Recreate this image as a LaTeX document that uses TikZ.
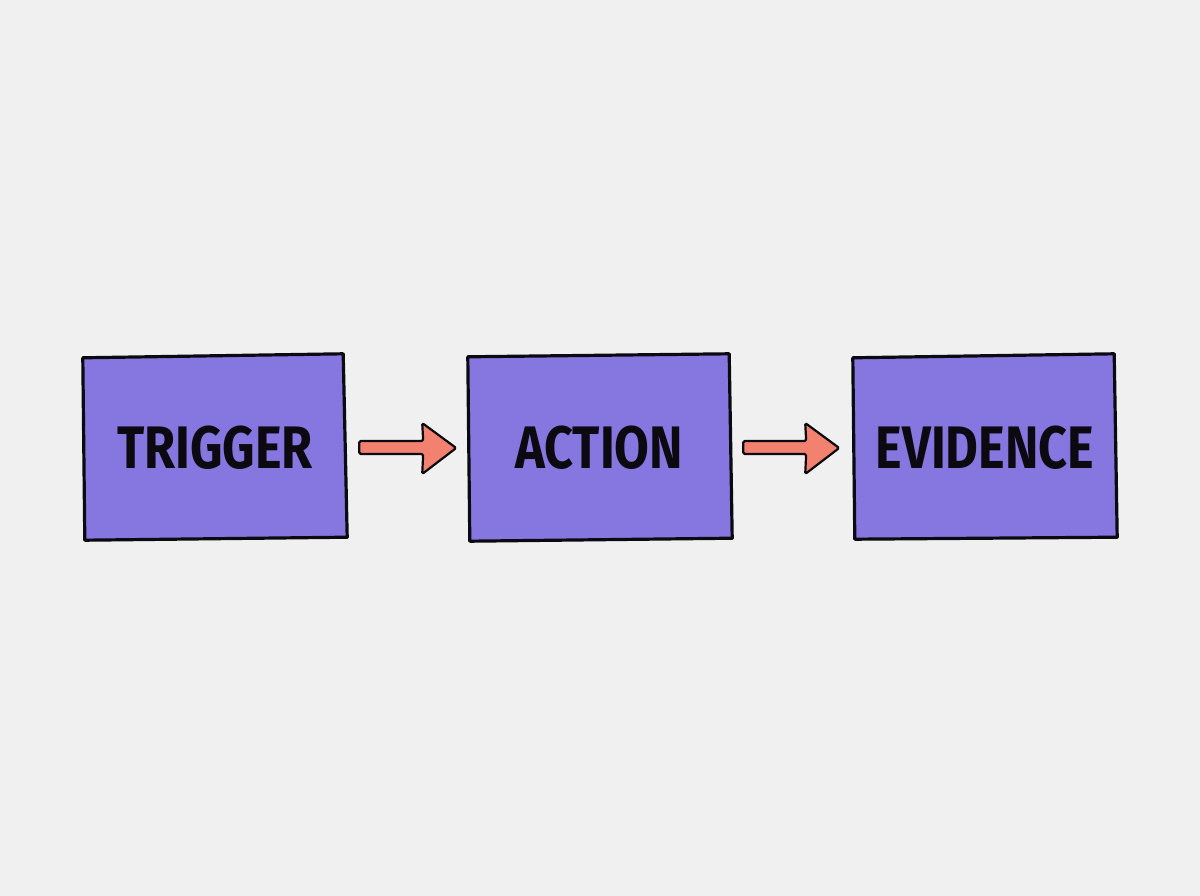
\documentclass[tikz,border=0pt]{standalone}
\usepackage{fontspec}
\setmainfont{Fira Sans}[BoldFeatures={FakeStretch=0.84}]
\usetikzlibrary{calc}
\definecolor{bg}{HTML}{F0F0F0}
\definecolor{boxfill}{HTML}{8677E0}
\definecolor{arrowfill}{HTML}{F2826F}
\definecolor{ink}{HTML}{0C0A10}
\tikzset{
  stagebox/.style={minimum width=264pt, minimum height=186pt, inner sep=0pt, font=\fontsize{60}{64}\selectfont\bfseries, text=ink},
  outline/.style={draw=ink, line width=3.2pt, fill=boxfill, line join=round},
  blockarrow/.style={draw=ink, line width=2.2pt, fill=arrowfill, line join=round, rounded corners=1.5pt}
}
\begin{document}
\begin{tikzpicture}[x=1pt,y=-1pt]
\fill[bg] (0,0) rectangle (1200,896);
\useasboundingbox (0,0) rectangle (1200,896);
% nodes (text only; outlines drawn hand-style below)
\node[stagebox] (t) at (215,448) {};
\node[stagebox] (a) at (599,448) {};
\node[stagebox] (e) at (985,448) {};
% hand-drawn box outlines
\draw[outline] ($(t.north west)+(0,3)$) -- ($(t.north east)+(-4,-1)$) -- ($(t.south east)+(0,-4)$) -- ($(t.south west)+(2,-1)$) -- cycle;
\draw[outline] ($(a.north west)+(1,2)$) -- ($(a.north east)+(-2,-1)$) -- ($(a.south east)+(1,-3)$) -- ($(a.south west)+(3,0)$) -- cycle;
\draw[outline] ($(e.north west)+(0,3)$) -- ($(e.north east)+(-3,-1)$) -- ($(e.south east)+(0,-4)$) -- ($(e.south west)+(2,-2)$) -- cycle;
\node[stagebox] at (t.center) {TRIGGER};
\node[stagebox] at (a.center) {ACTION};
\node[stagebox] at (e.center) {EVIDENCE};
% block arrows
\draw[blockarrow] ($(t.east)+(12,-7)$) -- ($(t.east)+(76,-7)$) -- ($(t.east)+(75,-25)$) -- ($(t.east)+(109,0)$) -- ($(t.east)+(75,26)$) -- ($(t.east)+(76,6)$) -- ($(t.east)+(12,6)$) -- cycle;
\draw[blockarrow] ($(a.east)+(12,-7)$) -- ($(a.east)+(75,-7)$) -- ($(a.east)+(74,-25)$) -- ($(a.east)+(108,0)$) -- ($(a.east)+(74,26)$) -- ($(a.east)+(75,6)$) -- ($(a.east)+(12,6)$) -- cycle;
\end{tikzpicture}
\end{document}
